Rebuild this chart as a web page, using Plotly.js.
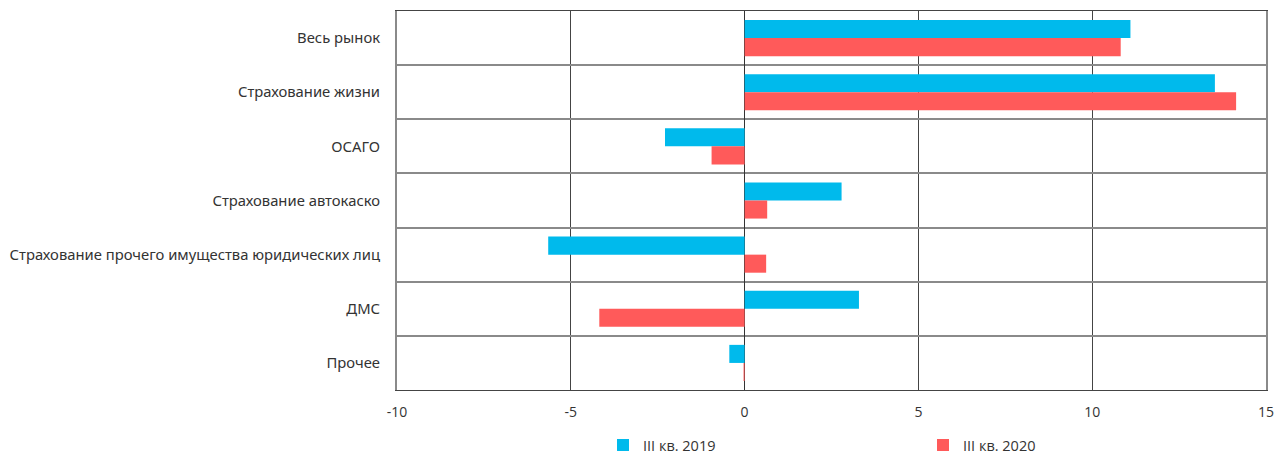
<!DOCTYPE html>
<html>
<head>
<meta charset="utf-8">
<script src="https://cdn.plot.ly/plotly-3.0.1.min.js"></script>
<style>
  html, body { margin: 0; padding: 0; background: #fff; }
  #chart { width: 1283px; height: 456px; }
</style>
</head>
<body>
<div id="chart"></div>
<script>
// Insurance market segments, change in premiums (%)
const categories = [
  "Весь рынок",
  "Страхование жизни",
  "ОСАГО",
  "Страхование автокаско",
  "Страхование прочего имущества юридических лиц",
  "ДМС",
  "Прочее"
];
const seriesNames = ["III кв. 2019", "III кв. 2020"];
const values2019 = [11.1, 13.53, -2.29, 2.79, -5.65, 3.29, -0.44];
const values2020 = [10.82, 14.14, -0.95, 0.65, 0.62, -4.18, -0.03];
const xTicks = [-10, -5, 0, 5, 10, 15];

const colors = ["#00BAEC", "#FF5A5A"];

const traces = [values2019, values2020].map((vals, i) => ({
  type: "bar",
  orientation: "h",
  name: seriesNames[i],
  y: categories,
  x: vals,
  marker: { color: colors[i], line: { width: 0 } },
  hoverinfo: "x+y+name"
}));

const layout = {
  width: 1283,
  height: 456,
  margin: { l: 397, r: 17, t: 11, b: 66 },
  paper_bgcolor: "#ffffff",
  plot_bgcolor: "#ffffff",
  font: { family: "Open Sans, sans-serif", size: 14, color: "#333333" },
  barmode: "group",
  bargap: 0.333,
  bargroupgap: 0,
  showlegend: true,
  legend: {
    orientation: "h",
    xref: "container",
    yref: "container",
    x: 0.47,
    xanchor: "left",
    y: 0.024,
    yanchor: "middle",
    entrywidth: 275,
    font: { family: "Open Sans, sans-serif", size: 14.5, color: "#333333" },
    itemclick: false
  },
  xaxis: {
    range: [-10, 15],
    tickvals: xTicks,
    ticktext: xTicks.map(String),
    showgrid: true,
    gridcolor: "#444444",
    gridwidth: 1,
    zeroline: true,
    zerolinecolor: "#333333",
    zerolinewidth: 1,
    showline: true,
    mirror: true,
    linecolor: "#444444",
    linewidth: 1,
    ticks: "",
    ticklabelstandoff: 9,
    automargin: false,
    tickfont: { family: "Open Sans, sans-serif", size: 14, color: "#333333" },
    fixedrange: true
  },
  yaxis: {
    type: "category",
    autorange: "reversed",
    tickson: "boundaries",
    showgrid: true,
    gridcolor: "#8a8a8a",
    gridwidth: 2,
    showline: true,
    mirror: true,
    linecolor: "#8a8a8a",
    linewidth: 2,
    ticks: "",
    ticklabelstandoff: 12,
    automargin: false,
    tickfont: { family: "Noto Sans, sans-serif", size: 14.8, color: "#333333" },
    fixedrange: true
  }
};

Plotly.newPlot("chart", traces, layout, { displayModeBar: false, staticPlot: true });
</script>
</body>
</html>
